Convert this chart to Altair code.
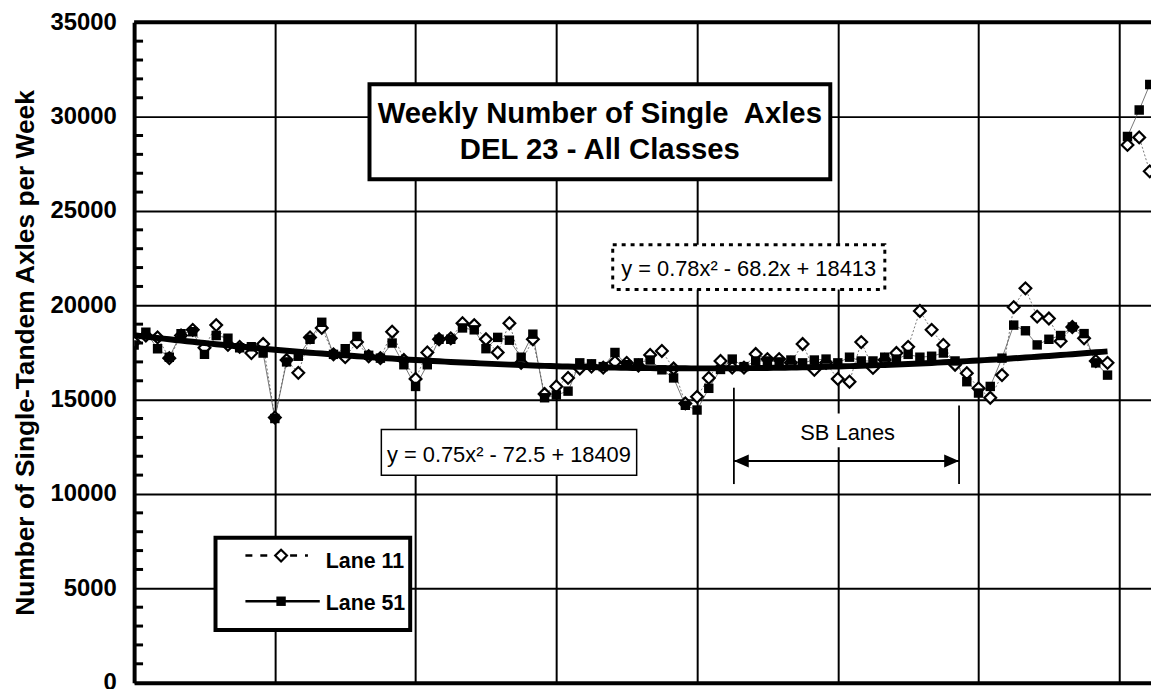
import altair as alt
import pandas as pd

# ---------------- data ----------------
weeks = list(range(0, 84)) + [84.7, 85.7, 86.6]

lane11 = [18050, 18400, 18300, 17200, 18400, 18700, 17750, 18950, 17900, 17800,
          17470, 17950, 14050, 17100, 16420, 18300, 18800, 17400, 17250, 18050,
          17300, 17200, 18600, 17100, 16100, 17500, 18200, 18250, 19050, 18950,
          18200, 17500, 19050, 16950, 18200, 15300, 15700, 16150, 16650, 16750,
          16700, 17000, 16950, 16800, 17370, 17580, 16650, 14800, 15150, 16150,
          17050, 16700, 16700, 17420, 17150, 17150, 16950, 17950, 16580, 16950,
          16100, 15950, 18050, 16680, 17100, 17470, 17800, 19700, 18700, 17900,
          16850, 16400, 15600, 15100, 16300, 19900, 20900, 19400, 19300, 18100,
          18850, 18250, 17050, 16950,
          28500, 28900, 27100]

lane51 = [17900, 18580, 17700, 17250, 18500, 18600, 17400, 18400, 18250, 17750,
          17800, 17470, 14000, 17000, 17300, 18200, 19100, 17400, 17700, 18350,
          17350, 17200, 18000, 16850, 15700, 16850, 18200, 18200, 18800, 18700,
          17700, 18300, 18150, 17250, 18470, 15100, 15250, 15450, 16950, 16900,
          16750, 17500, 16850, 16950, 17100, 16580, 16150, 14700, 14450, 15600,
          16600, 17150, 16750, 17050, 17050, 17000, 17100, 16950, 17100, 17150,
          16950, 17250, 17050, 17050, 17250, 17150, 17400, 17250, 17300, 17470,
          17050, 15950, 15350, 15700, 17200, 18950, 18650, 17900, 18200, 18400,
          18850, 18500, 16950, 16300,
          28950, 30350, 31700]

# fitted trend (from the equation printed on the chart)
trend_coef = (0.75, -72.5, 18409)
trend_end = 83

y_major = [0, 5000, 10000, 15000, 20000, 25000, 30000, 35000]
y_minor = [v for v in range(1000, 35000, 1000) if v % 5000]
x_grid = [12, 24, 36, 48, 60, 72, 84]

title_lines = ["Weekly Number of Single\u00a0 Axles", "DEL 23 - All Classes"]
eq1_text = "y = 0.78x\u00b2 - 68.2x + 18413"
eq2_text = "y = 0.75x\u00b2 - 72.5 + 18409"
sb_text = "SB Lanes"
legend_labels = ["Lane 11", "Lane 51"]
y_title = "Number of Single-Tandem Axles per Week"

# ---------------- layout ----------------
W, H = 1024, 665
XMAX = W / 11.81
FONT = "Liberation Sans"

xscale = alt.Scale(domain=[0, XMAX], nice=False, zero=False)
yscale = alt.Scale(domain=[0, 35000], nice=False, zero=False)
xaxis = alt.Axis(values=x_grid, grid=True, gridColor="black", gridWidth=2, gridOpacity=1,
                 labels=False, ticks=False, tickSize=0, domain=True, domainColor="black",
                 domainWidth=4, title=None)
yaxis = alt.Axis(values=y_major, format="d", grid=True, gridColor="black", gridWidth=2, gridOpacity=1,
                 ticks=False, tickSize=0, domain=True, domainColor="black", domainWidth=4,
                 labelFont=FONT, labelFontSize=24, labelFontWeight="bold", labelColor="black",
                 labelPadding=18, title=y_title, titleFont=FONT, titleFontSize=26.5,
                 titleFontWeight="bold", titleColor="black", titlePadding=10.5)


def X(f):
    return alt.X(f"{f}:Q", scale=xscale, axis=xaxis, title=None)


def Y(f):
    return alt.Y(f"{f}:Q", scale=yscale, axis=yaxis, title=y_title)


rows = []
for w, a, b in zip(weeks, lane11, lane51):
    seg = 0 if w <= trend_end else 1
    rows.append({"week": w, "value": a, "lane": "Lane 11", "seg": seg})
    rows.append({"week": w, "value": b, "lane": "Lane 51", "seg": seg})
df = pd.DataFrame(rows)
d11 = df[df.lane == "Lane 11"]
d51 = df[df.lane == "Lane 51"]

a_, b_, c_ = trend_coef
tw = [i * 0.5 for i in range(0, 2 * trend_end + 1)]
dtrend = pd.DataFrame({"week": tw, "value": [a_ * t * t + b_ * t + c_ for t in tw]})

minor = alt.Chart(pd.DataFrame({"y": y_minor})).mark_rule(color="black", strokeWidth=3).encode(
    y=Y("y"), x=alt.value(0), x2=alt.value(9))
topb = alt.Chart(pd.DataFrame({"y": [35000]})).mark_rule(color="black", strokeWidth=4).encode(
    y=Y("y"), x=alt.value(0), x2=alt.value(W))

line11 = alt.Chart(d11).mark_line(color="#555", strokeWidth=0.8, strokeDash=[2, 2], clip=True).encode(
    x=X("week"), y=Y("value"), detail="seg:N", order="week:Q")
line51 = alt.Chart(d51).mark_line(color="#555", strokeWidth=0.8, clip=True).encode(
    x=X("week"), y=Y("value"), detail="seg:N", order="week:Q")
pts11 = alt.Chart(d11).mark_point(shape="diamond", size=140, filled=True, fill="white",
                                   stroke="black", strokeWidth=2.2, opacity=1, clip=True).encode(
    x=X("week"), y=Y("value"))
pts51 = alt.Chart(d51).mark_square(size=90, color="black", opacity=1, clip=True).encode(
    x=X("week"), y=Y("value"))
trend = alt.Chart(dtrend).mark_line(color="black", strokeWidth=6).encode(x=X("week"), y=Y("value"))


def box(x1, x2, y1, y2, **style):
    d = pd.DataFrame({"x1": [x1], "x2": [x2], "y1": [y1], "y2": [y2]})
    return alt.Chart(d).mark_rect(**style).encode(
        x=X("x1"), x2=alt.X2("x2:Q"), y=Y("y1"), y2=alt.Y2("y2:Q"))


def text(t, x, y, size, weight="normal", align="center"):
    d = pd.DataFrame({"x": [x], "y": [y], "t": [t]})
    return alt.Chart(d).mark_text(font=FONT, fontSize=size, fontWeight=weight, color="black",
                                  align=align, baseline="alphabetic").encode(
        x=X("x"), y=Y("y"), text="t:N")


# title box
tbox = box(20.07, 59.36, 31721, 26684, fill="white", stroke="black", strokeWidth=4)
t1 = text(title_lines[0], 39.71, 29684, 29.5, "bold")
t2 = text(title_lines[1], 39.71, 27737, 29.5, "bold")

# equation boxes
e1box = box(40.81, 64.01, 23211, 20842, fill="white", stroke="black", strokeWidth=3, strokeDash=[4, 5])
e1 = text(eq1_text, 52.4, 21537, 22)
e2box = box(21.08, 42.85, 13421, 10999, fill="white", stroke="black", strokeWidth=1.5)
e2 = text(eq2_text, 31.96, 11684, 22)

# SB lanes annotation
sbbg = box(56.56, 65.11, 14263, 12474, fill="white", strokeWidth=0)
sbt = text(sb_text, 60.84, 12842, 22)
vl = pd.DataFrame({"x": [51.14, 70.34], "y1": [15632, 14684], "y2": [10526, 10526]})
sbv = alt.Chart(vl).mark_rule(color="black", strokeWidth=1.8).encode(x=X("x"), y=Y("y1"), y2=alt.Y2("y2:Q"))
arr = alt.Chart(pd.DataFrame({"x1": [51.14], "x2": [70.34], "y": [11753]})).mark_rule(
    color="black", strokeWidth=2).encode(x=X("x1"), x2=alt.X2("x2:Q"), y=Y("y"))
hl = alt.Chart(pd.DataFrame({"x": [51.14], "y": [11753]})).mark_point(
    shape="M0,0 L2,-0.87 L2,0.87 Z", size=225, filled=True, color="black", opacity=1).encode(x=X("x"), y=Y("y"))
hr = alt.Chart(pd.DataFrame({"x": [70.34], "y": [11753]})).mark_point(
    shape="M0,0 L-2,-0.87 L-2,0.87 Z", size=225, filled=True, color="black", opacity=1).encode(x=X("x"), y=Y("y"))

# legend
lbox = box(6.94, 23.54, 7684, 2789, fill="white", stroke="black", strokeWidth=4)
lg1 = alt.Chart(pd.DataFrame({"x1": [9.49], "x2": [14.82], "y": [6737]})).mark_rule(
    color="black", strokeWidth=2.5, strokeDash=[7, 8]).encode(x=X("x1"), x2=alt.X2("x2:Q"), y=Y("y"))
lg2 = alt.Chart(pd.DataFrame({"x1": [9.49], "x2": [15.83], "y": [4316]})).mark_rule(
    color="black", strokeWidth=2.5).encode(x=X("x1"), x2=alt.X2("x2:Q"), y=Y("y"))
lgd = alt.Chart(pd.DataFrame({"x": [12.53], "y": [6737]})).mark_point(
    shape="diamond", size=140, filled=True, fill="white", stroke="black", strokeWidth=2.2, opacity=1).encode(
    x=X("x"), y=Y("y"))
lgs = alt.Chart(pd.DataFrame({"x": [12.53], "y": [4316]})).mark_square(size=90, color="black", opacity=1).encode(
    x=X("x"), y=Y("y"))
lt1 = text(legend_labels[0], 16.34, 6053, 21.5, "bold", "left")
lt2 = text(legend_labels[1], 16.34, 3842, 21.5, "bold", "left")

chart = alt.layer(
    minor, line11, line51, pts11, pts51, trend,
    tbox, t1, t2, e1box, e1, e2box, e2, sbbg, sbt, sbv, arr, hl, hr,
    lbox, lg1, lg2, lgd, lgs, lt1, lt2, topb
).properties(
    width=W, height=H,
    padding={"left": 127, "top": 12, "right": 0, "bottom": 4},
    autosize=alt.AutoSizeParams(type="none"),
).configure_view(stroke=None).configure(background="white")

chart.save("out.html", embed_options={"renderer": "svg", "actions": False})
